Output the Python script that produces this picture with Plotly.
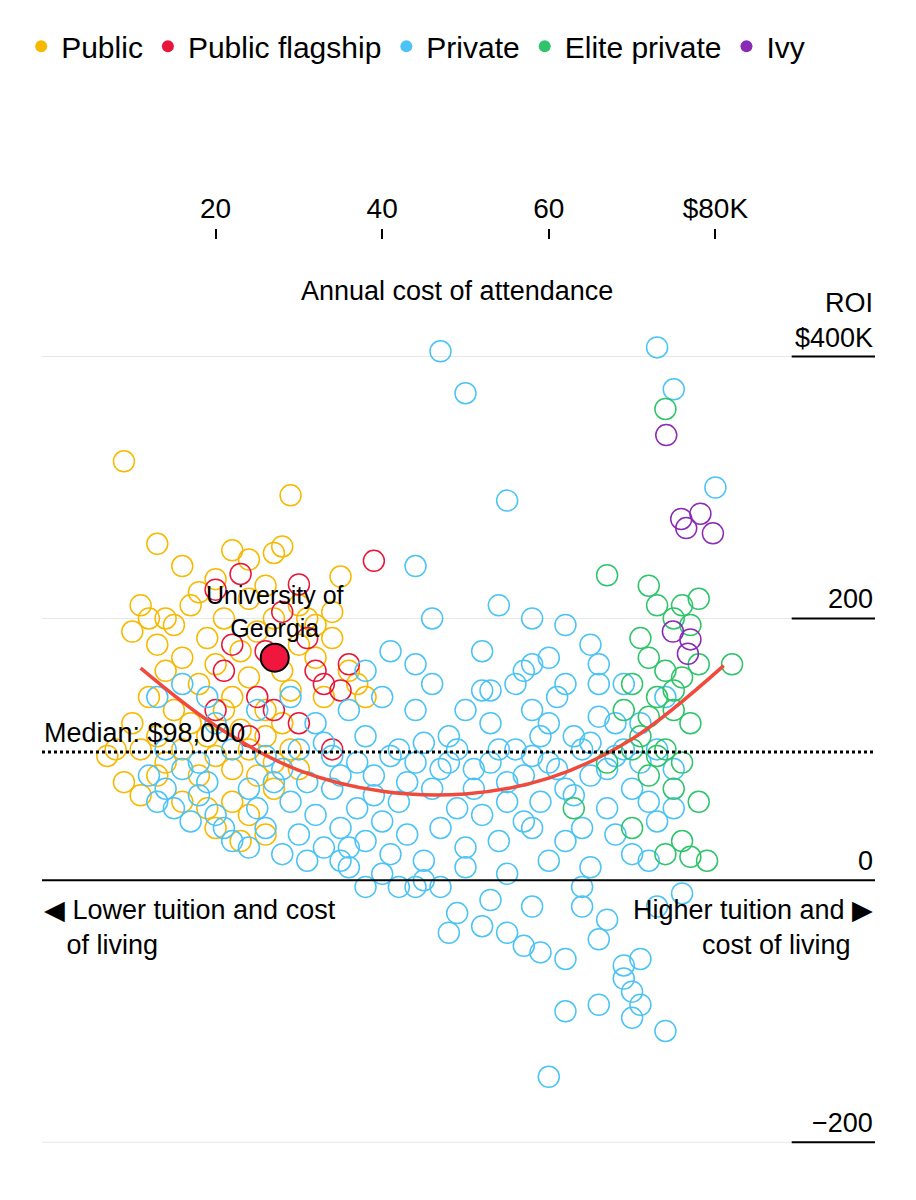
import plotly.graph_objects as go

# (annual cost $K, ROI $K)
public_pts = [(9,320),(29,294),(13,257),(28,255),(27,250),(22,252),(24,245),(35,232),(16,240),(10,190),
              (11,210),(12,200),(13,180),(14,160),(15,195),(16,170),(17,210),(18,150),(19,185),(20,165),
              (21,200),(22,140),(23,175),(24,155),(25,190),(26,130),(27,200),(28,160),(29,145),(30,180),
              (31,200),(32,170),(33,140),(34,185),(36,160),(37,150),(38,140),(10,120),(11,100),(12,140),
              (13,110),(14,90),(15,130),(16,100),(17,120),(18,80),(19,110),(20,95),(21,130),(22,85),
              (23,115),(24,100),(25,80),(26,110),(27,90),(28,120),(29,100),(30,85),(9,75),(11,65),
              (13,80),(16,60),(19,55),(22,60),(24,50),(27,70),(23,30),(26,35),(20,40),(8,100),(7,95),
              (14,200),(18,220),(20,230),(24,215),(26,225),(30,210),(32,195),(34,205)]
flagship_pts = [(39,244),(20,222),(23,234),(30,226),(28,205),(22,180),(32,160),(33,150),(25,140),(35,145),
                (27,130),(30,120),(34,100),(24,110),(20,130),(36,165),(31,185),(21,160),(26,175)]
private_pts = [(47,404),(50,372),(55,290),(73,407),(75,375),(80,300),(44,240),(54,210),(58,200),(62,195),
               (65,180),(57,160),(58,165),(53,145),(60,-150),(62,-100),(66,-95),(70,-105),(74,-115),
               (47,-5),(49,-25),(52,-35),(48,-40),(55,-40),(57,-50),(59,-55),(62,-60),(66,-45),(71,-60),
               (69,-65),(69,-75),(70,-85),(71,-95),(67,-30),(73,-20),(76,-10),(64,-20),(38,-5),(42,-5),
               (58,-20),(53,-15),
               (12,80),(13,60),(14,70),(15,55),(16,85),(17,45),(18,65),(19,75),(20,50),(14,100),(18,90),
               (20,120),(19,140),(16,150),(13,140),(21,40),(22,30),(24,25),(25,55),(26,40),(27,75),(28,20),
               (29,60),(30,35),(31,15),(32,50),(33,25),(34,70),(35,40),(36,10),(37,55),(38,30),(39,80),
               (40,45),(41,20),(42,60),(43,35),(44,90),(45,15),(46,70),(47,40),(48,110),(49,55),(50,25),
               (51,85),(52,50),(53,120),(54,30),(55,75),(56,100),(57,45),(58,130),(59,60),(60,90),(61,140),
               (62,70),(63,110),(64,40),(65,80),(66,125),(67,55),(68,95),(69,150),(70,70),(71,120),(72,60),
               (73,100),(74,140),(75,85),(30,100),(32,120),(34,95),(36,130),(38,110),(40,140),(42,100),
               (44,130),(46,150),(48,90),(50,130),(52,145),(54,100),(56,150),(58,95),(60,120),(62,150),
               (64,100),(66,150),(68,120),(35,80),(37,90),(39,65),(41,95),(43,75),(45,105),(47,85),(49,100),
               (51,70),(53,90),(55,60),(57,80),(59,110),(61,85),(63,65),(65,105),(67,85),(69,100),(71,90),
               (46,200),(52,175),(44,165),(38,160),(41,175),(60,170),(66,165),(24,70),(26,95),(28,85),
               (22,100),(25,130),(31,75),(33,105),(29,140),(35,15),(40,5),(45,0),(50,10),(55,5),(60,15),
               (65,10),(70,20),(44,-5),(36,25),(58,40),(62,30),(68,35),(73,45),(75,55),(72,15),(64,-5)]
elite_pts = [(74,360),(67,233),(72,225),(73,210),(76,210),(78,215),(75,200),(77,195),(71,185),(72,170),
             (74,160),(76,155),(78,165),(82,165),(70,150),(73,140),(75,130),(77,120),(71,110),(74,100),
             (76,90),(72,80),(75,70),(78,60),(70,40),(76,30),(74,20),(77,18),(79,15),(63,55),(67,90),
             (69,130),(72,125),(75,145),(70,100),(73,95)]
ivy_pts = [(74.1,340),(75.9,276),(76.5,269),(78.2,280),(79.7,265),(74.9,190),(77,184),(76.7,173)]

trend_x = [11, 20, 30, 40, 50, 60, 70, 81]
trend_y = [162, 118, 84, 68, 66, 78, 108, 164]
median_roi = 98
uga = (27.1, 170)

series = [
    ("Public", public_pts, "#f7b900"),
    ("Public flagship", flagship_pts, "#e8163b"),
    ("Private", private_pts, "#4cc3f5"),
    ("Elite private", elite_pts, "#2fc46b"),
    ("Ivy", ivy_pts, "#8a2bb5"),
]

FONT = "Liberation Sans"
fig = go.Figure()

for name, pts, color in series:
    fig.add_trace(go.Scatter(
        x=[p[0] for p in pts], y=[p[1] for p in pts], mode="markers",
        marker=dict(symbol="circle-open", size=21, color=color, line=dict(width=1.5)),
        showlegend=False, hoverinfo="skip"))
# legend entries with filled dots
for name, pts, color in series:
    fig.add_trace(go.Scatter(x=[None], y=[None], mode="markers", name=name,
                             marker=dict(symbol="circle", size=24, color=color)))

fig.add_trace(go.Scatter(x=trend_x, y=trend_y, mode="lines", line=dict(color="#ef4a3c", width=3.5, shape="spline"),
                         showlegend=False, hoverinfo="skip"))
fig.add_trace(go.Scatter(x=[uga[0]], y=[uga[1]], mode="markers",
                         marker=dict(size=28, color="#f0163e", line=dict(color="black", width=2)),
                         showlegend=False, hoverinfo="skip"))

shapes = []
for v in [400, 200, -200]:
    shapes.append(dict(type="line", xref="paper", x0=0, x1=1, yref="y", y0=v, y1=v,
                       line=dict(color="#e6e6e6", width=1), layer="below"))
    shapes.append(dict(type="line", xref="paper", x0=0.9, x1=1, yref="y", y0=v, y1=v,
                       line=dict(color="black", width=2)))
shapes.append(dict(type="line", xref="paper", x0=0, x1=1, yref="y", y0=0, y1=0, line=dict(color="black", width=2)))
shapes.append(dict(type="line", xref="paper", x0=0, x1=1, yref="y", y0=median_roi, y1=median_roi,
                   line=dict(color="black", width=3, dash="dot")))

f = dict(family=FONT, size=27, color="black")
ann = []
for v, t in [(400, "$400K"), (200, "200"), (0, "0"), (-200, "\u2212200")]:
    ann.append(dict(xref="paper", x=1, y=v, text=t, showarrow=False, xanchor="right", yanchor="bottom",
                    yshift=2, font=f))
ann += [
    dict(xref="paper", x=1, y=428, text="ROI", showarrow=False, xanchor="right", yanchor="bottom", font=f),
    dict(x=49, y=450, text="Annual cost of attendance", showarrow=False, font=f),
    dict(xref="paper", x=0, y=median_roi, text="Median: $98,000", showarrow=False, xanchor="left",
         yanchor="bottom", yshift=2, font=f),
    dict(x=uga[0], y=uga[1], text="University of<br>Georgia", showarrow=False, yanchor="bottom", yshift=14,
         font=dict(family=FONT, size=25, color="black")),
    dict(xref="paper", x=0, y=-10, text="\u25c0 Lower tuition and cost<br>   of living", showarrow=False,
         xanchor="left", yanchor="top", align="left", font=f),
    dict(xref="paper", x=1, y=-10, text="Higher tuition and \u25b6<br>cost of living   ", showarrow=False,
         xanchor="right", yanchor="top", align="right", font=f),
]

fig.update_layout(
    width=916, height=1200, margin=dict(l=34, r=49, t=227, b=33),
    plot_bgcolor="white", paper_bgcolor="white", font=f,
    shapes=shapes, annotations=ann,
    legend=dict(orientation="h", x=-0.025, y=1.235, xanchor="left", yanchor="top",
                font=dict(family=FONT, size=30), itemsizing="constant", traceorder="normal",
                itemwidth=30, tracegroupgap=0),
    xaxis=dict(range=[-0.84, 99.16], side="top", tickvals=[20, 40, 60, 80],
               ticktext=["20", "40", "60", "$80K"], ticks="outside", ticklen=10, tickcolor="black",
               tickwidth=1.5, showgrid=False, zeroline=False, showline=False, tickfont=dict(family=FONT, size=28),
               automargin=False),
    yaxis=dict(range=[-225, 489], showticklabels=False, showgrid=False, zeroline=False, ticks="",
               automargin=False),
)
fig.write_html("out.html")
